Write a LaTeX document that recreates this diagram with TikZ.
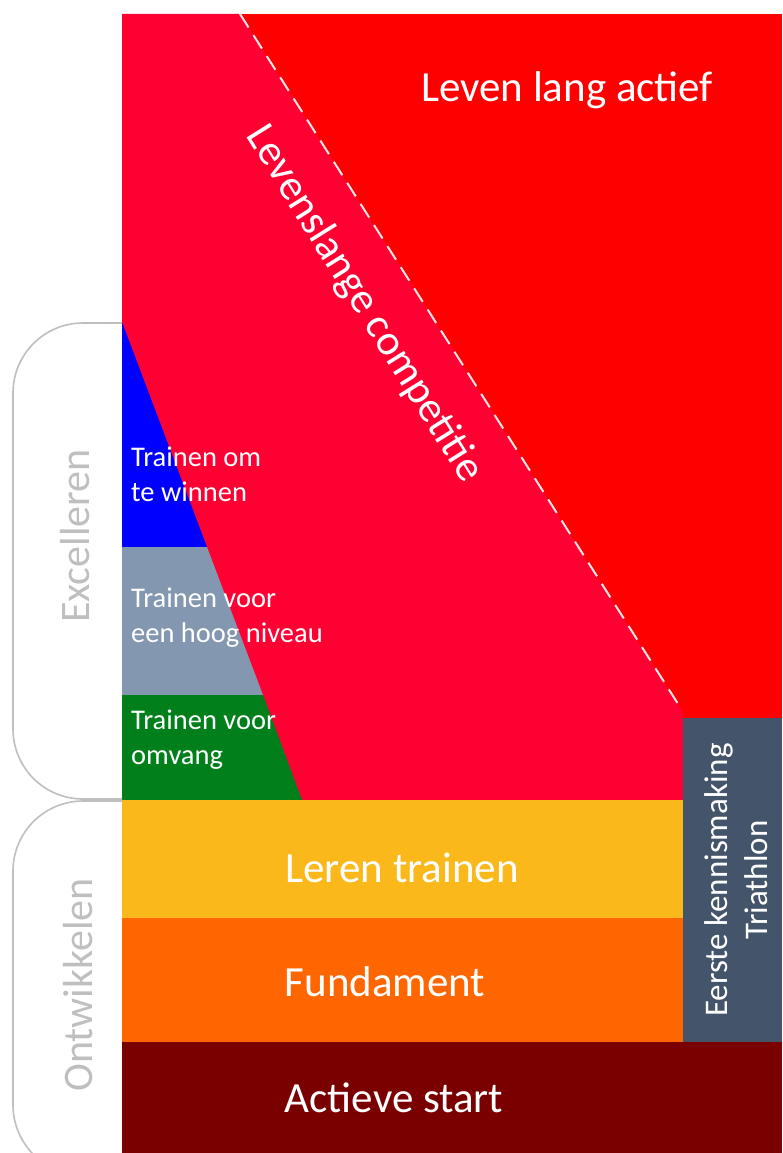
\documentclass[tikz,border=0pt]{standalone}
\usepackage{fontspec}
\setmainfont{Carlito}
\definecolor{crimson}{HTML}{FF0033}
\definecolor{helred}{HTML}{FF0000}
\definecolor{slate}{HTML}{8497B0}
\definecolor{grasgroen}{HTML}{007F1A}
\definecolor{geel}{HTML}{FAB81A}
\definecolor{oranje}{HTML}{FF6600}
\definecolor{donkerrood}{HTML}{7A0000}
\definecolor{leisteen}{HTML}{44546A}
\definecolor{haak}{HTML}{BFBFBF}
\tikzset{
  groot/.style={text=white, font=\fontsize{43}{52}\selectfont},
  klein/.style={text=white, align=left, anchor=west, inner sep=3pt,
    font=\fontsize{28.5}{35}\selectfont},
  fase/.style={text=haak, rotate=90, font=\fontsize{42}{50}\selectfont},
  haakje/.style={draw=haak, line width=1.6pt, rounded corners=70pt}
}
\begin{document}
\begin{tikzpicture}[x=1pt, y=-1pt]
  \useasboundingbox (0,0) rectangle (782,1153);
  \clip (0,0) rectangle (782,1153);
  % vlakken
  \fill[helred] (122,14) rectangle (782,800);
  \fill[crimson] (122,14) -- (240,14) -- (683,712) -- (683,800) -- (122,800) -- cycle;
  \draw[white!90!red, line width=2pt, dash pattern=on 16pt off 9pt] (240,14) -- (680,707);
  \fill[blue] (122,322) -- (207,547) -- (122,547) -- cycle;
  \fill[slate] (122,547) -- (207,547) -- (263,695) -- (122,695) -- cycle;
  \fill[grasgroen] (122,695) -- (263,695) -- (302,800) -- (122,800) -- cycle;
  \fill[geel] (122,800) rectangle (683,918);
  \fill[oranje] (122,918) rectangle (683,1042);
  \fill[leisteen] (683,718) rectangle (782,1042);
  \fill[donkerrood] (122,1042) rectangle (782,1153);
  % haken
  \draw[haakje] (122,323) -- (13,323) -- (13,799) -- (122,799);
  \draw[haakje] (122,801) -- (13,801) -- (13,1175) -- (122,1175);
  % teksten
  \node[groot] (lang) at (567,90) {Leven lang actief};
  \node[groot, rotate=-58] (competitie) at (364,304) {Levenslange competitie};
  \node[klein] (winnen) at (128,474) {Trainen om\\te winnen};
  \node[klein] (niveau) at (128,618) {Trainen voor\\een hoog niveau};
  \node[klein] (omvang) at (128,740) {Trainen voor\\omvang};
  \node[groot] (leren) at (402,868) {Leren trainen};
  \node[groot] (fundament) at (385,982) {Fundament};
  \node[groot] (start) at (394,1098) {Actieve start};
  \node[text=white, rotate=90, align=center, font=\fontsize{33}{40}\selectfont]
    (kennis) at (736,880) {Eerste kennismaking\\Triathlon};
  \node[fase] (excel) at (75,536) {Excelleren};
  \node[fase] (ontw) at (78,985) {Ontwikkelen};
\end{tikzpicture}
\end{document}
